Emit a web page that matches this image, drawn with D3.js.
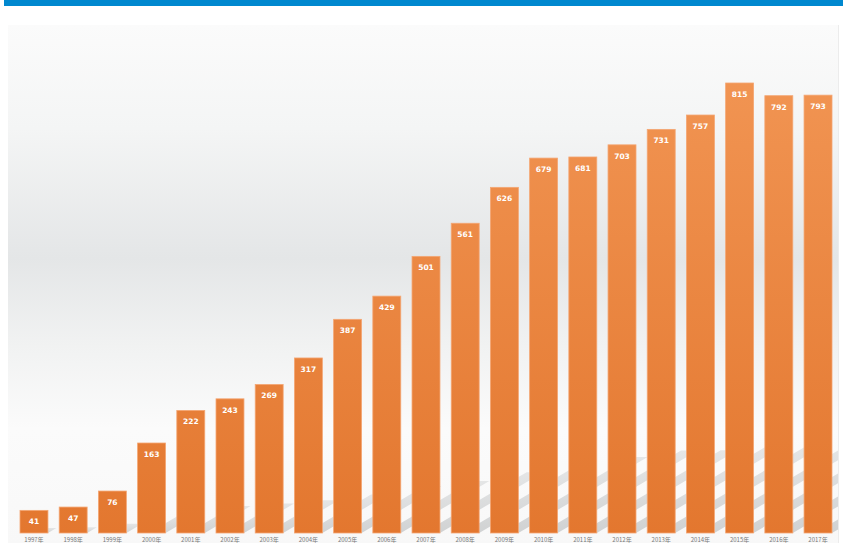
<!DOCTYPE html>
<html><head><meta charset="utf-8">
<script src="https://cdn.jsdelivr.net/npm/d3@7"></script>
<style>body{margin:0;background:#fff}svg{display:block}</style>
</head><body>
<script>
const years = ["1997年","1998年","1999年","2000年","2001年","2002年","2003年","2004年","2005年","2006年","2007年","2008年","2009年","2010年","2011年","2012年","2013年","2014年","2015年","2016年","2017年"];
const values = [41,47,76,163,222,243,269,317,387,429,501,561,626,679,681,703,731,757,815,792,793];

const W = 860, H = 543;
const svg = d3.select("body").append("svg").attr("width", W).attr("height", H);
const defs = svg.append("defs");

// top blue band
svg.append("rect").attr("x",4).attr("y",0).attr("width",839).attr("height",6).attr("fill","#0088cf");

// panel background gradient
const bg = defs.append("linearGradient").attr("id","bg").attr("x1",0).attr("y1",0).attr("x2",0).attr("y2",1);
[[0,"#fbfbfb"],[0.2,"#f4f5f5"],[0.45,"#e4e6e7"],[0.62,"#f1f2f2"],[0.78,"#fbfbfb"],[1,"#f8f8f8"]].forEach(([o,c])=>bg.append("stop").attr("offset",o).attr("stop-color",c));
svg.append("rect").attr("x",8).attr("y",25).attr("width",830).attr("height",518).attr("fill","url(#bg)");
svg.append("line").attr("x1",838.5).attr("x2",838.5).attr("y1",25).attr("y2",543).attr("stroke","#ececec");
defs.append("clipPath").attr("id","panel").append("rect").attr("x",8).attr("y",25).attr("width",830).attr("height",518);

const x = d3.scaleBand().domain(years).range([20, 832]).paddingInner(0.287).paddingOuter(0);
const y = d3.scaleLinear().domain([0, 815]).range([533, 83]);

// shadows
const sh = defs.append("linearGradient").attr("id","sh").attr("x1",0).attr("y1",1).attr("x2",0).attr("y2",0);
sh.append("stop").attr("offset",0).attr("stop-color","#c9cbcc").attr("stop-opacity",0.85);
sh.append("stop").attr("offset",1).attr("stop-color","#d3d5d6").attr("stop-opacity",0.55);
svg.append("g").attr("clip-path","url(#panel)").selectAll("polygon").data(values).join("polygon")
  .attr("fill","url(#sh)")
  .attr("points",(d,i)=>{
    const x0 = x(years[i]) + x.bandwidth()*0.4, x1 = x(years[i]) + x.bandwidth();
    const h = Math.min((y(0)-y(d))*0.22, 95);
    const dx = h*1.7, b = y(0);
    return [[x0,b],[x1,b],[x1+dx,b-h],[x0+dx,b-h]].map(p=>p.join(",")).join(" ");
  });

// bars
const bar = defs.append("linearGradient").attr("id","bar").attr("gradientUnits","userSpaceOnUse").attr("x1",0).attr("y1",83).attr("x2",0).attr("y2",533);
bar.append("stop").attr("offset",0).attr("stop-color","#f19452");
bar.append("stop").attr("offset",1).attr("stop-color","#e3772f");
svg.append("g").selectAll("rect").data(values).join("rect")
  .attr("x",(d,i)=>x(years[i])).attr("width",x.bandwidth())
  .attr("y",d=>y(d)).attr("height",d=>y(0)-y(d))
  .attr("fill","url(#bar)").attr("stroke","#f4a673").attr("stroke-width",0.8);

// value labels
svg.append("g").selectAll("text").data(values).join("text")
  .attr("x",(d,i)=>x(years[i])+x.bandwidth()/2).attr("y",d=>y(d)+14)
  .attr("text-anchor","middle").attr("fill","#fff").attr("font-family","DejaVu Sans, sans-serif")
  .attr("font-size",7.5).attr("font-weight","bold").text(d=>d);

// year labels
svg.append("g").selectAll("text").data(years).join("text")
  .attr("x",d=>x(d)+x.bandwidth()/2).attr("y",541.5)
  .attr("text-anchor","middle").attr("fill","#777").attr("font-family","Noto Sans CJK SC, sans-serif")
  .attr("font-size",6).text(d=>d);
</script>
</body></html>
